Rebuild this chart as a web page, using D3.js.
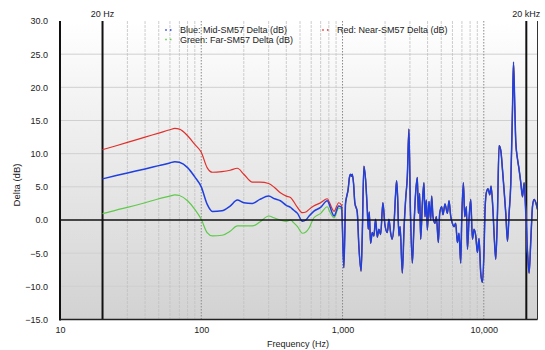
<!DOCTYPE html>
<html>
<head>
<meta charset="utf-8">
<script src="https://cdn.jsdelivr.net/npm/d3@7"></script>
<style>
  html, body { margin: 0; padding: 0; background: #fff; }
  svg { display: block; font-family: "Liberation Sans", Arial, Helvetica, sans-serif; }
</style>
</head>
<body>
<svg id="chart" width="545" height="350"></svg>
<script>
// Low-frequency region: the three deltas are distinct here (Hz, dB)
const lowFreq  = [20, 25, 30, 40, 50, 60, 65, 70, 80, 90, 100, 110, 120, 140, 160, 180, 200, 230, 260, 300,
                  330, 363, 400, 428, 450, 480, 520, 550, 580, 625, 700, 780, 810, 840, 870, 940, 985];
const redLow   = [10.6, 11.2, 11.7, 12.5, 13.1, 13.6, 13.8, 13.7, 12.7, 11.4, 10.2, 7.9, 7.2, 7.3, 7.5, 7.8, 6.9, 5.7, 5.7, 5.5,
                  4.9, 4.1, 3.6, 3.4, 2.8, 1.9, 1.1, 1.2, 1.6, 2.1, 2.6, 3.2, 2.6, 1.8, 1.3, 2.6, 2.2];
const blueLow  = [6.2, 6.7, 7.1, 7.7, 8.2, 8.6, 8.8, 8.7, 7.9, 6.5, 5.0, 2.4, 1.3, 1.4, 2.1, 3.0, 2.6, 2.5, 3.1, 3.6,
                  3.2, 2.9, 2.2, 1.9, 1.5, 1.0, -0.2, 0.0, 0.6, 1.3, 1.9, 2.9, 2.2, 1.2, 0.6, 2.1, 1.9];
const greenLow = [0.95, 1.5, 1.9, 2.6, 3.2, 3.6, 3.8, 3.7, 2.9, 1.6, 0.1, -1.9, -2.4, -2.3, -1.7, -0.9, -0.9, -0.9, -0.3, 0.6,
                  0.3, 0.0, -0.2, 0.0, -0.4, -1.0, -2.0, -1.8, -1.2, 0.3, 1.0, 2.0, 1.3, 0.7, 0.3, 1.8, 1.6];

// Above 1 kHz the three traces coincide (Hz, dB)
const highFreq = [1021, 1038, 1050, 1067, 1094, 1121, 1140, 1158, 1172, 1197, 1222, 1271, 1305, 1353, 1379, 1416,
                  1456, 1497, 1521, 1546, 1580, 1624, 1667, 1714, 1762, 1809, 1860, 1931, 1995, 2075, 2130, 2189,
                  2244, 2311, 2376, 2415, 2454, 2507, 2557, 2650, 2729, 2797, 2876, 2952, 3020, 3120, 3203, 3293,
                  3386, 3441, 3515, 3573, 3674, 3771, 3833, 3922, 3986, 4091, 4207, 4276, 4368, 4513, 4617, 4770,
                  4872, 5034, 5142, 5313, 5525, 5672, 5831, 5995, 6154, 6327, 6505, 6677, 6865, 6978, 7174, 7329,
                  7534, 7659, 7861, 8082, 8310, 8530, 8770, 9017, 9255, 9516, 9783, 10043, 10208, 10444, 10721, 11022,
                  11258, 11575, 11901, 12156, 12498, 12830, 13190, 13562, 13920, 14311, 14714, 15104, 15529, 15966, 16228, 16578,
                  16850, 17323, 17783, 18283, 18798, 19295, 19838, 20396, 20936, 21526, 22131, 22718, 23357, 24000];
const highDelta = [-7.2, -2.0, 2.5, 3.4, 4.5, 6.5, 6.9, 6.6, 6.9, 5.5, 2.6, 1.2, -3.9, -7.7, -2.5, 8.1,
                   6.1, 1.6, -1.4, 1.2, -3.5, -1.9, -2.4, 0.1, -2.6, -1.4, -2.2, 2.6, -0.7, -1.9, 0.1, -1.9,
                   -2.9, -0.9, 4.0, 5.9, 3.5, -2.4, -1.0, -8.0, -1.0, 3.1, 6.6, 13.7, 2.0, -6.5, -1.0, 4.1,
                   6.4, 1.0, 4.0, -2.9, 2.5, 5.6, 0.5, 3.0, -1.5, 2.8, 0.0, 3.6, 0.5, -0.5, 0.5, -3.4,
                   1.0, 2.0, 0.8, 2.4, 1.0, 2.9, 0.6, -0.5, -1.0, -0.5, -3.4, -2.0, -6.5, 0.0, 5.6, 0.5,
                   2.0, -4.4, 0.1, 3.1, -2.9, -1.4, -2.4, -4.9, -2.8, -8.0, -9.4, -4.4, 1.6, 4.2, 4.7, 3.8,
                   5.1, 2.0, -3.2, -5.9, 1.0, 11.2, 10.5, 7.6, 4.5, 1.0, -3.2, 1.0, 5.5, 16.7, 23.8, 17.0,
                   11.7, 9.2, 7.6, 5.6, 3.5, 5.6, 1.0, -4.9, -8.0, -3.0, 2.1, 3.1, 2.6, 1.6];

const yTicks = [-15, -10, -5, 0, 5, 10, 15, 20, 25, 30];
const xTicks = [10, 100, 1000, 10000];
const legendItems = [
  { label: "Blue: Mid-SM57 Delta (dB)",  color: "#1f3fe0" },
  { label: "Green: Far-SM57 Delta (dB)", color: "#5fc94a" },
  { label: "Red: Near-SM57 Delta (dB)",  color: "#e0302c" }
];

const svg = d3.select("#chart");
const plotL = 60, plotR = 537.5, plotT = 21, plotB = 319.5;

const x = d3.scaleLog().domain([10, 24000]).range([plotL, plotR]);
const y = d3.scaleLinear().domain([-15, 30]).range([plotB, plotT]);

// plot background: white fading to light gray
const defs = svg.append("defs");
const grad = defs.append("linearGradient").attr("id", "bg").attr("x1", 0).attr("y1", 0).attr("x2", 0).attr("y2", 1);
grad.append("stop").attr("offset", "0%").attr("stop-color", "#ffffff");
grad.append("stop").attr("offset", "100%").attr("stop-color", "#d2d2d2");
svg.append("rect").attr("x", plotL).attr("y", plotT).attr("width", plotR - plotL).attr("height", plotB - plotT)
  .attr("fill", "url(#bg)");

// horizontal grid
svg.append("g").selectAll("line").data(yTicks.filter(d => d !== 0 && d !== -15 && d !== 30)).join("line")
  .attr("x1", plotL).attr("x2", plotR).attr("y1", d => y(d)).attr("y2", d => y(d))
  .attr("stroke", "#d0d0d0").attr("stroke-width", 1);

// vertical grid: minor lines at 2..9 of each decade, dotted at decades
const minor = [];
[10, 100, 1000, 10000].forEach(dec => { for (let k = 2; k <= 9; k++) { const f = dec * k; if (f < 24000) minor.push(f); } });
svg.append("g").selectAll("line").data(minor.filter(f => f !== 20 && f !== 20000)).join("line")
  .attr("x1", d => x(d)).attr("x2", d => x(d)).attr("y1", plotT).attr("y2", plotB)
  .attr("stroke", "#c2c2c2").attr("stroke-width", 0.8).attr("stroke-dasharray", "3,1");
svg.append("g").selectAll("line").data([100, 1000, 10000]).join("line")
  .attr("x1", d => x(d)).attr("x2", d => x(d)).attr("y1", plotT).attr("y2", plotB)
  .attr("stroke", "#8a8a8a").attr("stroke-width", 1).attr("stroke-dasharray", "1.5,1.5");

// audible band edges
svg.append("g").selectAll("line").data([20, 20000]).join("line")
  .attr("x1", d => x(d)).attr("x2", d => x(d)).attr("y1", plotT).attr("y2", plotB)
  .attr("stroke", "#111").attr("stroke-width", 2);
svg.append("text").attr("x", x(20)).attr("y", 17).attr("text-anchor", "middle")
  .attr("font-size", 9).attr("fill", "#222").text("20 Hz");
svg.append("text").attr("x", x(20000)).attr("y", 17).attr("text-anchor", "middle")
  .attr("font-size", 9).attr("fill", "#222").text("20 kHz");

// series
const mk = (lowVals) => lowFreq.map((f, i) => [f, lowVals[i]]).concat(highFreq.map((f, i) => [f, highDelta[i]]));
const line = d3.line().x(d => x(d[0])).y(d => y(d[1])).curve(d3.curveMonotoneX);
const series = [
  { data: mk(greenLow), color: legendItems[1].color, w: 1.2 },
  { data: mk(redLow),   color: legendItems[2].color, w: 1.2 },
  { data: mk(blueLow),  color: legendItems[0].color, w: 1.5 }
];
svg.append("g").selectAll("path").data(series).join("path")
  .attr("d", d => line(d.data)).attr("fill", "none")
  .attr("stroke", d => d.color).attr("stroke-width", d => d.w).attr("stroke-linejoin", "round");

// zero line and frame
svg.append("line").attr("x1", plotL).attr("x2", plotR).attr("y1", y(0)).attr("y2", y(0))
  .attr("stroke", "#111").attr("stroke-width", 1.6);
svg.append("line").attr("x1", plotL).attr("x2", plotL).attr("y1", plotT).attr("y2", plotB + 1)
  .attr("stroke", "#111").attr("stroke-width", 2);
svg.append("line").attr("x1", plotL).attr("x2", plotR).attr("y1", plotB).attr("y2", plotB)
  .attr("stroke", "#222").attr("stroke-width", 1.6);
svg.append("line").attr("x1", plotR).attr("x2", plotR).attr("y1", plotT).attr("y2", plotB)
  .attr("stroke", "#333").attr("stroke-width", 1);

// axes
const yAxis = d3.axisLeft(y).tickValues(yTicks).tickFormat(d3.format(".1f")).tickSize(0).tickPadding(12);
const gy = svg.append("g").attr("transform", `translate(${plotL},0)`).call(yAxis);
gy.select(".domain").remove();
gy.selectAll("text").attr("font-size", 9).attr("fill", "#222").attr("font-family", null);

const xAxis = d3.axisBottom(x).tickValues(xTicks).tickFormat(d3.format(",")).tickSize(0).tickPadding(7);
const gx = svg.append("g").attr("transform", `translate(0,${plotB})`).call(xAxis);
gx.select(".domain").remove();
gx.selectAll("text").attr("font-size", 9).attr("fill", "#222").attr("font-family", null);

svg.append("text").attr("x", 298).attr("y", 347).attr("text-anchor", "middle")
  .attr("font-size", 9).attr("fill", "#222").text("Frequency (Hz)");
svg.append("text").attr("transform", "translate(20,185) rotate(-90)").attr("text-anchor", "middle")
  .attr("font-size", 9.5).attr("fill", "#222").text("Delta (dB)");

// legend
const legendPos = [{ x: 166, y: 30 }, { x: 166, y: 39.5 }, { x: 323, y: 30 }];
const lg = svg.append("g").selectAll("g").data(legendItems).join("g")
  .attr("transform", (d, i) => `translate(${legendPos[i].x},${legendPos[i].y})`);
lg.selectAll("rect").data(d => [0, 4.7].map(o => ({ o, c: d.color }))).join("rect")
  .attr("x", d => d.o - 0.75).attr("y", -0.75).attr("width", 1.5).attr("height", 1.5).attr("fill", d => d.c);
lg.append("text").attr("x", 14).attr("y", 3.2).attr("font-size", 9).attr("fill", "#222").text(d => d.label);
</script>
</body>
</html>
